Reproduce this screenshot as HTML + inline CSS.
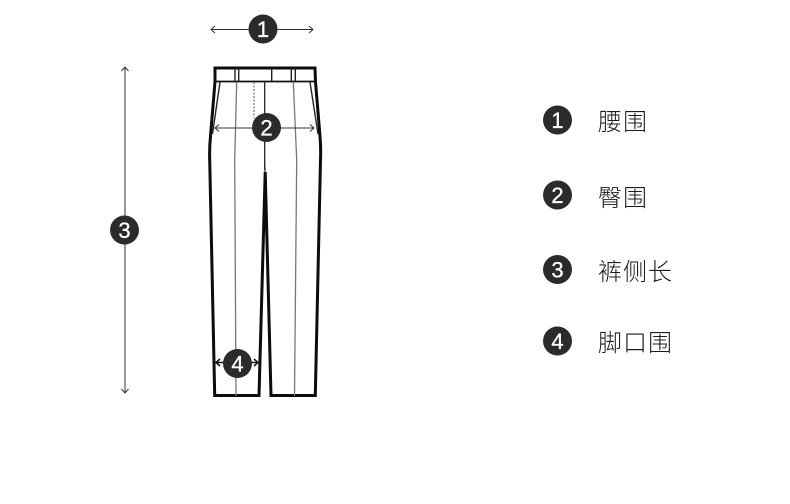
<!DOCTYPE html>
<html><head><meta charset="utf-8">
<style>
html,body{margin:0;padding:0;background:#fff;}
svg{display:block;}
text{font-family:"Liberation Sans","Noto Sans CJK SC",sans-serif;}
</style></head>
<body>
<svg width="790" height="504" viewBox="0 0 790 504" xmlns="http://www.w3.org/2000/svg">
<rect width="790" height="504" fill="#fff"/>
<!-- outline -->
<path d="M215 68H315L315.500 82L320 136Q321 148 320.500 160L315.300 395.500H271L265.200 172L259 395.500H214.700L209.700 160Q209.300 148 210.500 136L215 82Z" fill="#fff" stroke="#0c0c0c" stroke-width="3" stroke-linejoin="miter"/>
<path d="M265 160L263.300 200H267.100Z" fill="#0c0c0c"/>
<!-- waistband -->
<path d="M215 81.500H315" stroke="#111" stroke-width="1.800" fill="none"/>
<path d="M235 68V81M238.700 68V81M271.700 68V81M291.300 68V81M295.300 68V81" stroke="#222" stroke-width="1.400" fill="none"/>
<!-- pockets -->
<path d="M220 82L212.500 134M310 82L318 134" stroke="#222" stroke-width="1.400" fill="none"/>
<!-- center line/fly -->
<path d="M264.700 82V170" stroke="#222" stroke-width="1.300" fill="none"/>
<path d="M254 82V118" stroke="#555" stroke-width="1" stroke-dasharray="2 1.500" fill="none"/>
<!-- creases -->
<path d="M236.700 82L234.700 160L236 396" stroke="#777" stroke-width="1.300" fill="none"/>
<path d="M293.300 82L296.700 160L294.500 396" stroke="#777" stroke-width="1.300" fill="none"/>
<!-- arrows -->
<g stroke="#333" stroke-width="1" fill="none">
<path d="M211 29.500H313M215 26L211 29.500L215 33M309 26L313 29.500L309 33"/>
<path d="M215 128H314M219 124.500L215 128L219 131.500M310 124.500L314 128L310 131.500"/>
<path d="M125 67V393M121.500 71L125 67L128.500 71M121.500 389L125 393L128.500 389"/>
</g>
<g stroke="#111" stroke-width="1.500" fill="none">
<path d="M216 362.500H258M220 359L216 362.500L220 366M254 359L258 362.500L254 366"/>
</g>
<!-- badges -->
<g fill="#2b2b2b">
<circle cx="263" cy="29" r="14.500"/>
<circle cx="266.500" cy="127.500" r="14.500"/>
<circle cx="124.500" cy="230" r="14.500"/>
<circle cx="237.500" cy="363.500" r="14.500"/>
<circle cx="557.500" cy="120" r="14.500"/>
<circle cx="557.500" cy="195" r="14.500"/>
<circle cx="557.500" cy="269.500" r="14.500"/>
<circle cx="557.500" cy="341" r="14.500"/>
</g>
<g fill="#fff" font-size="22" text-anchor="middle" stroke="#fff" stroke-width="0.300">
<text x="263" y="37">1</text>
<text x="266.500" y="135.500">2</text>
<text x="124.500" y="238">3</text>
<text x="237.500" y="371.500">4</text>
<text x="557.500" y="128">1</text>
<text x="557.500" y="203">2</text>
<text x="557.500" y="277.500">3</text>
<text x="557.500" y="349">4</text>
</g>
<g fill="#1c1c1c" font-size="24" font-weight="300" letter-spacing="1">
<text x="598" y="130">腰围</text>
<text x="598" y="206">臀围</text>
<text x="598" y="280">裤侧长</text>
<text x="598" y="351">脚口围</text>
</g>
</svg>
</body></html>
